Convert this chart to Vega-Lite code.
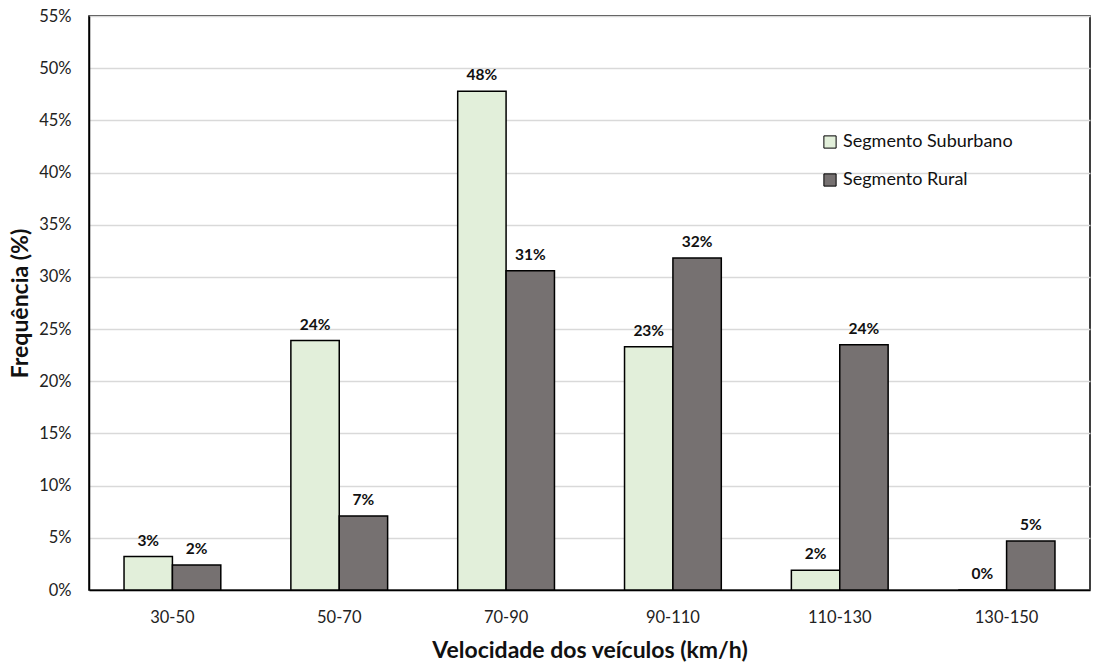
{
  "$schema": "https://vega.github.io/schema/vega-lite/v6.json",
  "autosize": {"type": "none"},
  "padding": {"left": 89, "top": 16, "right": 11, "bottom": 78},
  "width": 1001,
  "height": 574,
  "background": "white",
  "config": {
    "font": "Lato",
    "view": {"stroke": "black", "strokeWidth": 1.5},
    "axis": {"labelFont": "Lato", "titleFont": "Lato"}
  },
  "data": {
    "values": [
      {"cat": "30-50", "seg": "Segmento Suburbano", "v": 0.032},
      {"cat": "30-50", "seg": "Segmento Rural", "v": 0.024},
      {"cat": "50-70", "seg": "Segmento Suburbano", "v": 0.239},
      {"cat": "50-70", "seg": "Segmento Rural", "v": 0.071},
      {"cat": "70-90", "seg": "Segmento Suburbano", "v": 0.478},
      {"cat": "70-90", "seg": "Segmento Rural", "v": 0.306},
      {"cat": "90-110", "seg": "Segmento Suburbano", "v": 0.233},
      {"cat": "90-110", "seg": "Segmento Rural", "v": 0.318},
      {"cat": "110-130", "seg": "Segmento Suburbano", "v": 0.019},
      {"cat": "110-130", "seg": "Segmento Rural", "v": 0.235},
      {"cat": "130-150", "seg": "Segmento Suburbano", "v": 0.0},
      {"cat": "130-150", "seg": "Segmento Rural", "v": 0.047}
    ]
  },
  "encoding": {
    "x": {
      "field": "cat", "type": "nominal", "sort": null,
      "scale": {"paddingInner": 0.42, "paddingOuter": 0.21},
      "axis": {
        "title": "Velocidade dos veículos (km/h)",
        "labelAngle": 0, "labelFontSize": 16.5, "labelColor": "#222", "labelPadding": 19,
        "ticks": false, "domainColor": "black", "domainWidth": 1.5,
        "titleFontSize": 23, "titleFontWeight": "bold", "titleColor": "#111",
        "titleY": 60, "titleBaseline": "middle"
      }
    },
    "xOffset": {"field": "seg", "type": "nominal", "sort": ["Segmento Suburbano", "Segmento Rural"], "scale": {"paddingInner": 0, "paddingOuter": 0}},
    "y": {
      "field": "v", "type": "quantitative",
      "scale": {"domain": [0, 0.55], "nice": false},
      "axis": {
        "title": "Frequência (%)", "format": ".0%", "values": [0, 0.05, 0.1, 0.15, 0.2, 0.25, 0.3, 0.35, 0.4, 0.45, 0.5, 0.55],
        "labelFontSize": 16.5, "labelColor": "#222", "labelPadding": 18, "ticks": false,
        "domainColor": "black", "domainWidth": 1.5,
        "gridColor": "#d9d9d9", "gridWidth": 1.5,
        "titleFontSize": 23, "titleFontWeight": "bold", "titleColor": "#111",
        "titleX": -69, "titleBaseline": "middle"
      }
    }
  },
  "layer": [
    {
      "mark": {"type": "bar", "stroke": "black", "strokeWidth": 1.5},
      "encoding": {
        "color": {
          "field": "seg", "type": "nominal",
          "scale": {"domain": ["Segmento Suburbano", "Segmento Rural"], "range": ["#e2efda", "#767171"]},
          "legend": {
            "title": null, "orient": "none", "legendX": 732, "legendY": 117,
            "symbolType": "square", "symbolSize": 150, "symbolStrokeColor": "black", "symbolStrokeWidth": 1, "symbolOpacity": 1,
            "labelFontSize": 18, "labelColor": "#111", "labelOffset": 4, "rowPadding": 20, "labelLimit": 400, "labelFont": "Lato"
          }
        }
      }
    },
    {
      "mark": {"type": "text", "baseline": "bottom", "dy": -8, "fontSize": 15.5, "fontWeight": "bold", "color": "#111"},
      "encoding": {
        "text": {"field": "v", "type": "quantitative", "format": ".0%"}
      }
    }
  ]
}
